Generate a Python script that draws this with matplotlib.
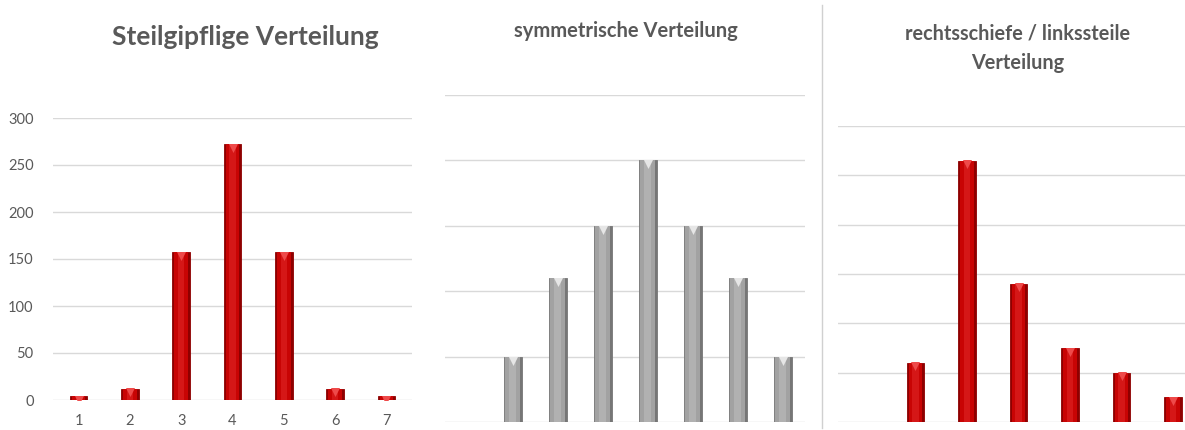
import matplotlib
matplotlib.use("Agg")
import matplotlib.pyplot as plt
import numpy as np

# --- data -------------------------------------------------------------
steil_labels = ["1", "2", "3", "4", "5", "6", "7"]
steil_values = [4, 12, 157, 272, 157, 12, 4]

sym_values = [10, 22, 30, 40, 30, 22, 10]
schief_values = [12, 53, 28, 15, 10, 5]

titles = ["Steilgipflige Verteilung",
          "symmetrische Verteilung",
          "rechtsschiefe / linkssteile\nVerteilung"]

# --- style ------------------------------------------------------------
TEXT = "#595959"
GRID = "#D9D9D9"
FONT = ["Lato", "DejaVu Sans"]
plt.rcParams["font.family"] = FONT

W, H = 1185, 430
fig = plt.figure(figsize=(W / 100, H / 100), dpi=100)
fig.patch.set_facecolor("white")


def px_axes(x0, x1, ytop, ybot):
    return fig.add_axes([x0 / W, (H - ybot) / H, (x1 - x0) / W, (ybot - ytop) / H])


def bevel_bars(ax, x, values, width, face, edge, shine, cap):
    x = np.asarray(x, dtype=float)
    v = np.asarray(values, dtype=float)
    ax.bar(x, v, width=width, color=edge, edgecolor=edge, linewidth=0.6, zorder=3)
    ax.bar(x, v, width=width * 0.78, color=face, linewidth=0, zorder=4)
    ax.bar(x, v, width=width * 0.36, color=shine, linewidth=0, alpha=0.25, zorder=5)
    top = ax.get_ylim()[1]
    ax.scatter(x, v - top * 0.012, marker="v", s=42, color=cap,
               linewidths=0, zorder=6)


def style_axes(ax, ymax, step):
    ax.set_facecolor("none")
    ax.set_ylim(0, ymax)
    ax.set_yticks(np.arange(0, ymax + step / 2, step))
    ax.grid(axis="y", color=GRID, linewidth=1.0, zorder=0)
    for s in ax.spines.values():
        s.set_visible(False)
    ax.tick_params(length=0, colors=TEXT, labelsize=10.5)


RED = ("#C80404", "#8E0000", "#FF5050", "#EE4A4A")
GREY = ("#A2A2A2", "#767676", "#E0E0E0", "#E6E6E6")

# panel 1: steep-peaked distribution
ax1 = px_axes(53, 412, 118, 400)
style_axes(ax1, 300, 50)
ax1.set_xlim(-0.5, len(steil_values) - 0.5)
bevel_bars(ax1, range(len(steil_values)), steil_values, 0.34, *RED)
ax1.set_xticks(range(len(steil_values)))
ax1.set_xticklabels(steil_labels)
ax1.tick_params(axis="y", pad=14)
ax1.tick_params(axis="x", pad=10)
fig.text(245 / W, 1 - 37 / H, titles[0], ha="center", va="center",
         fontsize=19, fontweight="bold", color=TEXT)

# panel 2: symmetric distribution
ax2 = px_axes(445, 805, 95, 422)
style_axes(ax2, 50, 10)
ax2.set_xlim(-1.5, len(sym_values) - 0.5)
bevel_bars(ax2, range(len(sym_values)), sym_values, 0.40, *GREY)
ax2.set_xticks([])
ax2.set_yticklabels([])
fig.text(626 / W, 1 - 31 / H, titles[1], ha="center", va="center",
         fontsize=14.5, fontweight="bold", color=TEXT)

# panel 3: right-skewed distribution
ax3 = px_axes(838, 1199, 126, 422)
style_axes(ax3, 60, 10)
ax3.set_xlim(-1.5, len(schief_values) - 0.5)
bevel_bars(ax3, range(len(schief_values)), schief_values, 0.34, *RED)
ax3.set_xticks([])
ax3.set_yticklabels([])
fig.text(1018 / W, 1 - 48 / H, titles[2], ha="center", va="center",
         fontsize=14.3, fontweight="bold", color=TEXT, linespacing=1.6)

# thin separator between the second and third chart
fig.add_artist(plt.Line2D([822 / W, 822 / W], [1 - 428 / H, 1 - 5 / H],
                          color="#D0D0D0", linewidth=1.0))

fig.savefig("out.png", dpi=100, facecolor="white")
